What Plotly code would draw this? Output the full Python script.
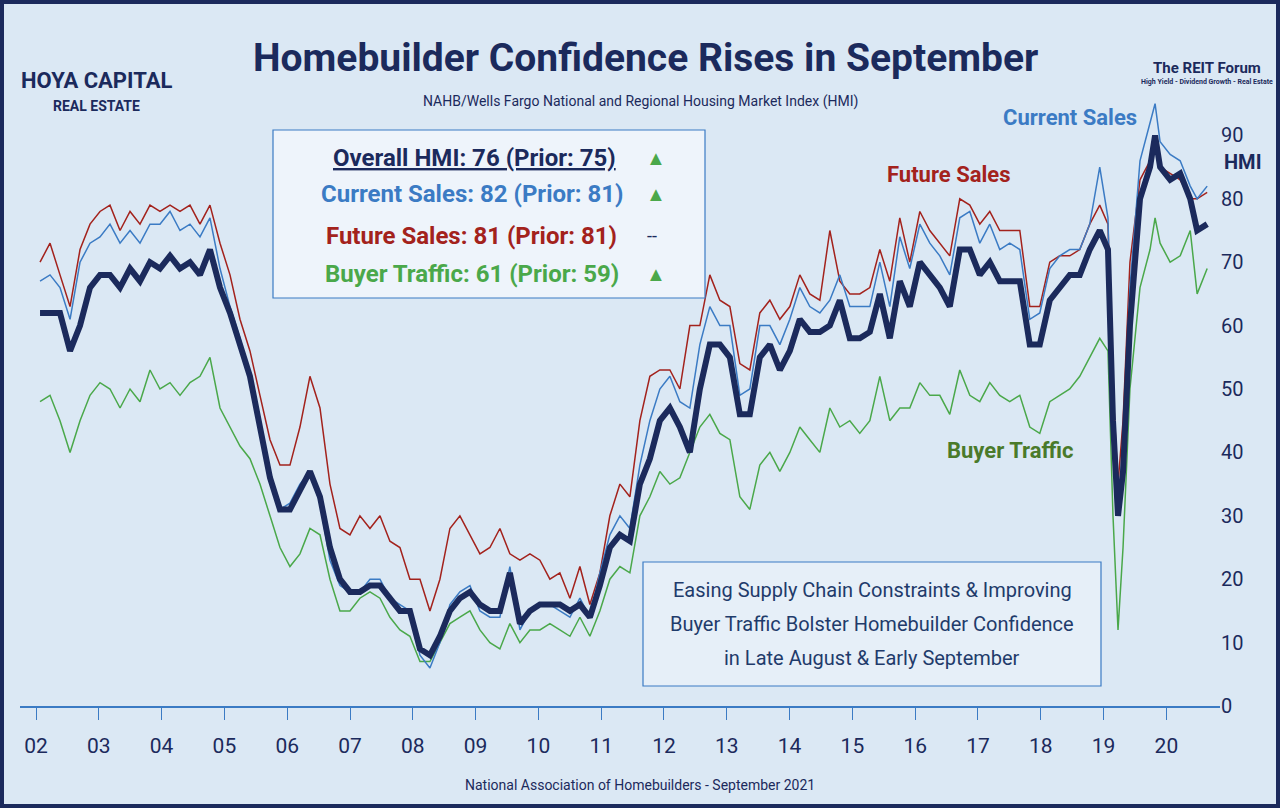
import plotly.graph_objects as go

# monthly-ish readings, main grid every ~0.16 yr starting 2002.06
overall_main = [62,62,62,56,60,66,68,68,66,69,
                67,70,69,71,69,70,68,72,66,62,
                57,52,44,36,31,31,34,37,33,25,
                20,18,18,19,19,17,15,15,9,8,
                11,15,17,18,16,15,15,21,13,15,
                16,16,16,15,16,14,19,25,27,26,
                35,39,45,47,44,40,50,57,57,55,
                46,46,55,57,53,56,61,59,59,60,
                64,58,58,59,65,58,67,63,70,68,
                66,63,72,72,68,70,67,67,67,57,
                57,64,66,68,68,72,75]
current_main = [67,68,66,61,70,73,74,76,73,75,
                73,76,76,78,75,76,74,77,69,63,
                58,52,45,36,31,32,35,37,32,23,
                19,18,18,20,20,17,16,15,8,6,
                10,16,18,19,15,14,14,22,12,15,
                16,16,15,14,17,14,21,27,30,28,
                38,45,50,52,48,47,57,63,60,60,
                49,50,60,60,57,61,66,63,62,64,
                68,63,63,63,70,63,74,69,76,73,
                71,68,77,78,73,76,72,73,72,61,
                62,69,71,72,72,76,85]
future_main = [70,73,68,63,72,76,78,79,75,78,
               76,79,78,79,78,79,76,79,73,68,
               61,56,49,42,38,38,44,52,47,35,
               28,27,30,28,30,26,25,20,20,15,
               20,28,30,27,24,25,28,24,23,24,
               23,20,21,17,22,16,21,30,35,33,
               45,52,53,53,50,60,60,68,64,63,
               54,53,62,64,61,63,68,65,64,75,
               67,65,65,66,72,67,77,70,78,75,
               73,71,80,79,76,78,75,75,75,63,
               63,70,71,71,72,76,79]
traffic_main = [48,49,45,40,45,49,51,50,47,50,
                48,53,50,51,49,51,52,55,47,44,
                41,39,35,30,25,22,24,28,27,20,
                15,15,17,18,17,14,12,11,7,7,
                10,13,14,15,12,10,9,13,10,12,
                12,13,12,11,14,11,15,20,22,21,
                30,33,37,35,36,40,44,46,43,42,
                33,31,38,40,37,40,44,42,40,47,
                44,45,43,45,52,45,47,47,51,49,
                49,46,53,49,48,51,49,48,49,44,
                43,48,49,50,52,55,58]

# pandemic period, denser readings
x_tail = [2019.07,2019.15,2019.23,2019.31,2019.42,2019.58,2019.74,2019.82,2019.90,2020.06,2020.22,2020.38,2020.49,2020.65]
overall_tail = [72,45,30,37,60,80,85,90,85,83,84,80,75,76]
current_tail = [77,45,32,40,66,86,92,95,89,87,86,82,80,82]
future_tail = [76,50,35,45,70,83,86,89,85,84,83,80,80,81]
traffic_tail = [56,30,12,25,50,66,72,77,73,70,71,75,65,69]

x_main = [round(2002.064 + 0.1592 * i, 3) for i in range(len(overall_main))]
x = x_main + x_tail

year_ticks = list(range(2002, 2021))
year_labels = ["%02d" % (y % 100) for y in year_ticks]

NAVY = "#1b2a5c"
BLUE = "#3b7bc4"
RED = "#a3221c"
GREEN = "#4aa84a"
FONT = "Roboto, Arial, sans-serif"

fig = go.Figure()
fig.add_trace(go.Scatter(x=x, y=traffic_main + traffic_tail, mode="lines", line=dict(color=GREEN, width=1.5)))
fig.add_trace(go.Scatter(x=x, y=future_main + future_tail, mode="lines", line=dict(color=RED, width=1.5)))
fig.add_trace(go.Scatter(x=x, y=current_main + current_tail, mode="lines", line=dict(color=BLUE, width=1.5)))
fig.add_trace(go.Scatter(x=x, y=overall_main + overall_tail, mode="lines", line=dict(color=NAVY, width=6)))

fig.update_layout(
    width=1280, height=808, showlegend=False,
    paper_bgcolor="#dbe8f4", plot_bgcolor="rgba(0,0,0,0)",
    margin=dict(l=20, r=60, t=72, b=102),
    font=dict(family=FONT, color=NAVY),
    xaxis=dict(range=[2001.745, 2020.854], tickvals=year_ticks, ticktext=year_labels,
               showgrid=False, zeroline=False, showline=True, linecolor=BLUE, linewidth=1.5,
               ticks="outside", tickcolor=BLUE, ticklen=12, tickfont=dict(size=21, color=NAVY),
               ticklabelstandoff=8),
    yaxis=dict(range=[0, 100], side="right", tickvals=list(range(0, 100, 10)),
               showgrid=False, zeroline=False, showline=False,
               tickfont=dict(size=20, color=NAVY)),
)


def at(xp, yp):
    # page pixels -> paper coords of the plot area
    return (xp - 20) / 1200, (706 - yp) / 634


def t(xp, yp, s, size, color=NAVY, bold=True, xanchor="center"):
    a, b = at(xp, yp)
    fig.add_annotation(x=a, y=b, xref="paper", yref="paper", text=("<b>%s</b>" % s) if bold else s,
                       showarrow=False, xanchor=xanchor, yanchor="middle",
                       font=dict(size=size, color=color, family=FONT))


def box(x0, y0, x1, y1, fill, line, width):
    a0, b0 = at(x0, y0)
    a1, b1 = at(x1, y1)
    fig.add_shape(type="rect", xref="paper", yref="paper", x0=a0, y0=b1, x1=a1, y1=b0,
                  fillcolor=fill, line=dict(color=line, width=width), layer="above")


# outer frame
box(2, 2, 1278, 806, "rgba(0,0,0,0)", NAVY, 4)

t(645, 58, "Homebuilder Confidence Rises in September", 39)
t(640, 101, "NAHB/Wells Fargo National and Regional Housing Market Index (HMI)", 14, bold=False)
t(640, 785, "National Association of Homebuilders - September 2021", 14, bold=False)

# logos as text
t(96, 80, "HOYA CAPITAL", 22)
t(96, 106, "REAL ESTATE", 14)
t(1207, 68, "The REIT Forum", 15)
t(1207, 82, "High Yield - Dividend Growth - Real Estate", 7)

# summary box
box(273, 130, 705, 298, "#eef4fb", BLUE, 1.2)
t(474, 158, "<u>Overall HMI: 76 (Prior: 75)</u>", 24, NAVY)
t(656, 158, "▲", 20, GREEN)
t(472, 194, "Current Sales: 82 (Prior: 81)", 24, BLUE)
t(656, 194, "▲", 20, GREEN)
t(471, 236, "Future Sales: 81 (Prior: 81)", 24, RED)
t(652, 236, "--", 18, NAVY, bold=False)
t(472, 274, "Buyer Traffic: 61 (Prior: 59)", 24, GREEN)
t(656, 274, "▲", 20, GREEN)

# bottom note box
box(643, 562, 1101, 686, "#e6eff8", BLUE, 1.2)
t(872, 590, "Easing Supply Chain Constraints & Improving", 20, "#1f3b6b", bold=False)
t(872, 624, "Buyer Traffic Bolster Homebuilder Confidence", 20, "#1f3b6b", bold=False)
t(872, 658, "in Late August & Early September", 20, "#1f3b6b", bold=False)

# series labels
t(1070, 117, "Current Sales", 22, BLUE)
t(948, 174, "Future Sales", 22, RED)
t(1010, 450, "Buyer Traffic", 22, "#4a7a2a")
t(1242, 162, "HMI", 20, NAVY)

fig.write_html("out.html", config={"displayModeBar": False},
               post_script="document.body.style.margin='0';")
